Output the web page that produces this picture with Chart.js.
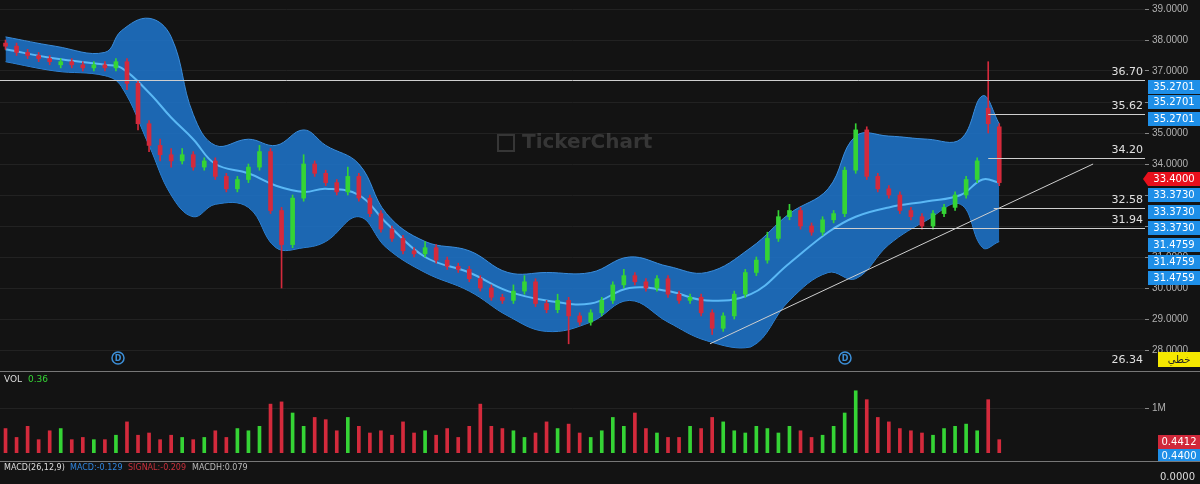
<!DOCTYPE html>
<html><head><meta charset="utf-8">
<script src="https://cdn.jsdelivr.net/npm/chart.js@4.4.0/dist/chart.umd.min.js"></script>
<style>
body{margin:0;background:#131313;width:1200px;height:484px;overflow:hidden;font-family:"DejaVu Sans",sans-serif}
.p{position:absolute;left:0;width:1200px}
#pc{top:0;height:372px}#vc{top:372px;height:90px}#mc{top:462px;height:22px}
.sep{position:absolute;left:0;width:1200px;height:1px;background:#777}
</style></head><body>
<div class="p" id="pc"><canvas id="price"></canvas></div>
<div class="sep" style="top:371px"></div>
<div class="p" id="vc"><canvas id="vol"></canvas></div>
<div class="sep" style="top:461px"></div>
<div class="p" id="mc"><canvas id="macd"></canvas></div>
<script>
const opens=[37.9,37.8,37.6,37.5,37.4,37.2,37.3,37.2,37.1,37.2,37.1,37.3,36.6,35.3,34.6,34.3,34.1,34.3,33.9,34.1,33.6,33.2,33.5,33.9,34.4,32.5,31.4,32.9,34.0,33.7,33.4,33.1,33.6,32.9,32.4,31.9,31.6,31.2,31.1,31.3,30.9,30.7,30.6,30.3,30.0,29.7,29.6,29.9,30.2,29.5,29.3,29.6,29.1,28.9,29.2,29.6,30.1,30.4,30.2,30.0,30.3,29.8,29.6,29.7,29.2,28.7,29.1,29.8,30.5,30.9,31.6,32.3,32.5,32.0,31.8,32.2,32.4,33.8,35.1,33.6,33.2,33.0,32.5,32.3,32.0,32.4,32.6,33.0,33.5,35.8,35.2];
const closes=[37.8,37.6,37.5,37.4,37.3,37.3,37.2,37.1,37.2,37.1,37.3,36.6,35.3,34.6,34.3,34.1,34.3,33.9,34.1,33.6,33.2,33.5,33.9,34.4,32.5,31.4,32.9,34.0,33.7,33.4,33.1,33.6,32.9,32.4,31.9,31.6,31.2,31.1,31.3,30.9,30.7,30.6,30.3,30.0,29.7,29.6,29.9,30.2,29.5,29.3,29.6,29.1,28.9,29.2,29.6,30.1,30.4,30.2,30.0,30.3,29.8,29.6,29.7,29.2,28.7,29.1,29.8,30.5,30.9,31.6,32.3,32.5,32.0,31.8,32.2,32.4,33.8,35.1,33.6,33.2,33.0,32.5,32.3,32.0,32.4,32.6,33.0,33.5,34.1,35.3,33.4];
const highs=[38.0,37.9,37.7,37.6,37.5,37.4,37.4,37.3,37.3,37.3,37.4,37.4,36.7,35.4,34.8,34.5,34.5,34.4,34.2,34.2,33.7,33.6,34.0,34.6,34.5,32.6,33.0,34.3,34.1,33.8,33.5,33.9,33.7,33.0,32.5,32.0,31.7,31.3,31.5,31.4,31.0,30.8,30.7,30.4,30.1,29.8,30.1,30.4,30.3,29.6,29.8,29.7,29.2,29.3,29.7,30.2,30.6,30.5,30.3,30.4,30.4,29.9,29.8,29.8,29.3,29.2,29.9,30.6,31.0,31.8,32.5,32.7,32.6,32.1,32.3,32.5,33.9,35.3,35.2,33.7,33.3,33.1,32.6,32.4,32.5,32.7,33.1,33.6,34.2,37.3,35.3];
const lows=[37.7,37.5,37.4,37.3,37.2,37.1,37.1,37.0,37.0,37.0,37.0,36.4,35.1,34.4,34.1,33.9,34.0,33.8,33.8,33.5,33.1,33.1,33.4,33.8,32.4,30.0,31.3,32.8,33.6,33.3,33.0,33.0,32.8,32.3,31.8,31.5,31.1,31.0,31.0,30.8,30.6,30.5,30.2,29.9,29.6,29.5,29.5,29.8,29.4,29.2,29.2,28.2,28.8,28.8,29.1,29.5,30.0,30.1,29.9,29.9,29.7,29.5,29.5,29.1,28.5,28.6,29.0,29.7,30.4,30.8,31.5,32.2,31.9,31.7,31.7,32.1,32.3,33.7,33.5,33.1,32.9,32.4,32.2,31.9,31.9,32.3,32.5,32.9,33.4,35.0,33.3];
const volumes=[0.55,0.35,0.6,0.3,0.5,0.55,0.3,0.35,0.3,0.3,0.4,0.7,0.4,0.45,0.3,0.4,0.35,0.3,0.35,0.5,0.35,0.55,0.5,0.6,1.1,1.15,0.9,0.6,0.8,0.75,0.5,0.8,0.6,0.45,0.5,0.4,0.7,0.45,0.5,0.4,0.55,0.35,0.6,1.1,0.6,0.55,0.5,0.35,0.45,0.7,0.55,0.65,0.45,0.35,0.5,0.8,0.6,0.9,0.55,0.45,0.35,0.35,0.6,0.55,0.8,0.7,0.5,0.45,0.6,0.55,0.45,0.6,0.5,0.35,0.4,0.6,0.9,1.4,1.2,0.8,0.7,0.55,0.5,0.45,0.4,0.55,0.6,0.65,0.5,1.2,0.3];
const bandX=[0,4.5,9,10.5,13,15,17,19,22,24.5,27,29,32,34.5,38,42,45.5,49,53,56.5,60,63.5,67.5,71,74.5,77,80,83.5,86.5,88.5,90];
const bandUpper=[38.1,37.8,37.6,38.3,38.7,38.1,35.6,34.6,34.8,34.6,35.1,34.6,34.0,32.4,31.5,31.2,30.5,30.5,30.5,31.0,30.7,30.5,31.3,32.4,33.2,34.9,34.9,34.8,34.8,36.2,35.3];
const bandMid=[37.7,37.4,37.2,37.1,36.3,35.5,34.8,34.0,33.7,33.3,33.1,33.2,33.0,32.1,31.0,30.5,29.9,29.6,29.5,30.0,29.9,29.6,29.8,30.8,31.8,32.3,32.6,32.8,33.0,33.5,33.4];
const bandLower=[37.3,37.0,36.85,36.5,34.6,33.0,32.3,32.7,32.6,31.3,31.3,31.5,32.3,31.3,30.5,29.9,29.1,28.6,28.9,29.6,28.9,28.3,28.1,29.6,30.5,30.3,31.4,32.2,32.7,31.3,31.5];
const levels=[{v:36.70,x0:-0.5},{v:35.62,x0:89},{v:34.20,x0:89},{v:32.58,x0:89.5},{v:31.94,x0:75}];
const trendX=[63.8,98.5], trendY=[28.2,34.0];
const priceTicks=[28,29,30,31,32,33,34,35,36,37,38,39];
const badges=[['35.2701',87],['35.2701',102],['35.2701',119],['33.3730',195],['33.3730',212],['33.3730',228],['31.4759',245],['31.4759',262],['31.4759',278]];

const GREEN='#35d435',RED='#d42a3c';
const dir=closes.map((c,i)=>c>=opens[i]?GREEN:RED);
const idx=closes.map((_,i)=>i);
const AXW=55;
function fitAxis(s){s.width=AXW;}

function rbox(ctx,x,y,w,h,bg,txt,fg){ctx.fillStyle=bg;ctx.fillRect(x,y,w,h);ctx.fillStyle=fg;ctx.font='10px "DejaVu Sans"';ctx.textAlign='center';ctx.textBaseline='middle';ctx.fillText(txt,x+w/2,y+h/2+0.5);}

const overlay={id:'overlay',
 beforeDatasetsDraw(ch){const c=ch.ctx;c.save();c.font='bold 20px "DejaVu Sans"';c.fillStyle='rgba(120,120,120,0.35)';c.textAlign='left';c.textBaseline='middle';c.fillText('TickerChart',522,143);c.strokeStyle='rgba(120,120,120,0.35)';c.lineWidth=2;c.strokeRect(498,135,16,16);c.restore();},
 afterDatasetsDraw(ch){
  const c=ch.ctx,x=ch.scales.x,y=ch.scales.y,R=ch.chartArea.right;c.save();
  c.strokeStyle='#cfcfcf';c.lineWidth=1;c.fillStyle='#e0e0e0';c.font='11px "DejaVu Sans"';c.textAlign='right';c.textBaseline='bottom';
  levels.forEach(l=>{const py=Math.round(y.getPixelForValue(l.v))+0.5;c.beginPath();c.moveTo(x.getPixelForValue(l.x0),py);c.lineTo(R,py);c.stroke();c.fillText(l.v.toFixed(2),R-2,py-3);});
  c.fillText('26.34',R-2,366);
  c.beginPath();c.moveTo(x.getPixelForValue(trendX[0]),y.getPixelForValue(trendY[0]));c.lineTo(x.getPixelForValue(trendX[1]),y.getPixelForValue(trendY[1]));c.stroke();
  [118,845].forEach(px=>{c.beginPath();c.arc(px,358,6,0,Math.PI*2);c.strokeStyle='#3c8fd8';c.lineWidth=1.5;c.stroke();c.fillStyle='#3c8fd8';c.font='bold 8px "DejaVu Sans"';c.textAlign='center';c.textBaseline='middle';c.fillText('D',px,358.5);});
  badges.forEach(b=>rbox(c,1148,b[1]-7,52,14,'#1e8fe8',b[0],'#fff'));
  c.fillStyle='#e8101c';c.beginPath();c.moveTo(1143,179);c.lineTo(1148,172);c.lineTo(1200,172);c.lineTo(1200,186);c.lineTo(1148,186);c.closePath();c.fill();
  c.fillStyle='#fff';c.font='10px "DejaVu Sans"';c.textAlign='center';c.textBaseline='middle';c.fillText('33.4000',1174,179.5);
  rbox(c,1158,352,42,15,'#f5e800','خطي','#222');
  c.restore();}
};

new Chart(document.getElementById('price'),{
 data:{datasets:[
  {type:'line',data:bandX.map((v,i)=>({x:v,y:bandUpper[i]})),borderColor:'#3a8ddc',borderWidth:1,backgroundColor:'rgba(30,115,200,0.88)',fill:'+1',pointRadius:0,tension:0.4,order:5},
  {type:'line',data:bandX.map((v,i)=>({x:v,y:bandLower[i]})),borderColor:'#3a8ddc',borderWidth:1,fill:false,pointRadius:0,tension:0.4,order:5},
  {type:'line',data:bandX.map((v,i)=>({x:v,y:bandMid[i]})),borderColor:'#5ab8f5',borderWidth:2,fill:false,pointRadius:0,tension:0.4,order:4},
  {type:'bar',data:idx.map(i=>({x:i,y:[lows[i],highs[i]]})),backgroundColor:dir,barThickness:1,grouped:false,order:3},
  {type:'bar',data:idx.map(i=>({x:i,y:[opens[i],closes[i]]})),backgroundColor:dir,barThickness:4,minBarLength:1,grouped:false,order:2}
 ]},
 options:{responsive:true,maintainAspectRatio:false,animation:false,layout:{padding:{top:2,bottom:22}},
  plugins:{legend:{display:false},tooltip:{enabled:false}},
  scales:{x:{type:'linear',offset:false,min:-0.5,max:103.2,display:false},
   y:{position:'right',min:28,max:39,afterFit:fitAxis,afterBuildTicks:s=>{s.ticks=priceTicks.map(v=>({value:v}));},
    ticks:{color:'#b0b0b0',font:{size:10},padding:3,callback:v=>v.toFixed(4)},
    grid:{color:'#222',tickColor:'#888',tickLength:4,drawOnChartArea:true},border:{display:false}}}},
 plugins:[overlay]
});

const volOverlay={id:'vo',afterDraw(ch){const c=ch.ctx;c.save();c.font='9px "DejaVu Sans"';c.textAlign='left';c.textBaseline='top';c.fillStyle='#ddd';c.fillText('VOL',4,3);c.fillStyle='#35d435';c.fillText('0.36',28,3);
 rbox(c,1158,63,42,14,'#d0283a','0.4412','#fff');rbox(c,1158,77,42,13,'#1e8fe8','0.4400','#fff');c.restore();}};
new Chart(document.getElementById('vol'),{type:'bar',
 data:{datasets:[{data:idx.map(i=>({x:i,y:volumes[i]})),backgroundColor:dir,barThickness:3}]},
 options:{responsive:true,maintainAspectRatio:false,animation:false,layout:{padding:{top:2,bottom:1}},
  plugins:{legend:{display:false},tooltip:{enabled:false}},
  scales:{x:{type:'linear',offset:false,min:-0.5,max:103.2,display:false},
   y:{position:'right',min:0,max:1.62,afterFit:fitAxis,afterBuildTicks:s=>{s.ticks=[{value:1}];},
    ticks:{color:'#b0b0b0',font:{size:10},padding:3,callback:()=>'1M'},grid:{color:'#222',tickColor:'#888',tickLength:4},border:{display:false}}}},
 plugins:[volOverlay]
});

const macdOverlay={id:'mo',afterDraw(ch){const c=ch.ctx;c.save();c.font='8px "DejaVu Sans"';c.textBaseline='top';c.textAlign='left';
 c.fillStyle='#ddd';c.fillText('MACD(26,12,9)',4,2);c.fillStyle='#2f86e0';c.fillText('MACD:-0.129',70,2);c.fillStyle='#c8303c';c.fillText('SIGNAL:-0.209',128,2);c.fillStyle='#bbb';c.fillText('MACDH:0.079',192,2);
 c.fillStyle='#ddd';c.font='10px "DejaVu Sans"';c.fillText('0.0000',1160,10);c.restore();}};
new Chart(document.getElementById('macd'),{type:'line',data:{datasets:[]},
 options:{responsive:true,maintainAspectRatio:false,animation:false,plugins:{legend:{display:false}},
  scales:{x:{type:'linear',min:0,max:1,display:false},y:{display:false}}},plugins:[macdOverlay]});
</script></body></html>
